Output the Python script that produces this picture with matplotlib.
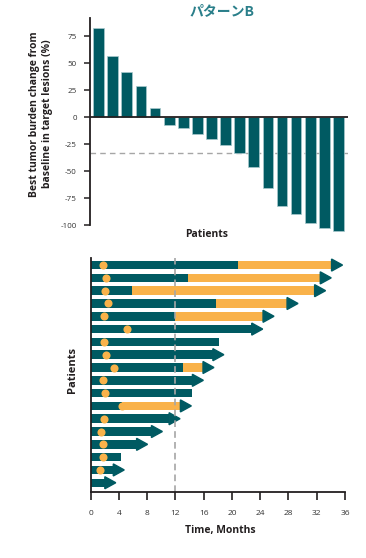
import matplotlib
matplotlib.use('Agg')
import matplotlib.pyplot as plt
from matplotlib.patches import Polygon
import numpy as np

plt.rcParams['font.family'] = ['Open Sans', 'Noto Sans CJK JP', 'DejaVu Sans']

# ---------------- data ----------------
title = 'パターンB'
best_change = [83, 57, 41.5, 28.5, 8.5, -7, -10, -15, -20, -26, -33, -46, -65,
               -82, -89, -98, -102, -105]
threshold = -33
wf_ticks = [75, 50, 25, 0, -25, -50, -75, -100]

# swimmer rows, listed top to bottom
teal_end = [20.8, 13.8, 5.9, 17.8, 12.0, 22.8, 18.2, 17.3, 13.0, 14.4, 14.4,
            4.4, 11.1, 8.6, 6.5, 4.3, 3.2, 2.0]
total_end = [34.1, 32.5, 31.7, 27.8, 24.4, 22.8, 18.2, 17.3, 15.9, 14.4, 14.4,
             12.7, 11.1, 8.6, 6.5, 4.3, 3.2, 2.0]
dot_time = [1.7, 2.2, 2.0, 2.5, 1.9, 5.1, 1.9, 2.1, 3.3, 1.7, 2.0, 4.5, 1.9,
            1.5, 1.7, 1.7, 1.3, np.nan]
ongoing = [True, True, True, True, True, True, False, True, True, True, False,
           True, True, True, True, False, True, True]
landmark = 12
time_ticks = [0, 4, 8, 12, 16, 20, 24, 28, 32, 36]

# ---------------- style ----------------
TEAL = '#005A62'
ORANGE = '#F9B24A'
DARK = '#231F20'
GRAY = '#A6A6A6'

fig = plt.figure(figsize=(3.66, 5.58), dpi=100)

# ---------------- waterfall ----------------
ax1 = fig.add_axes([0.2459, 0.5824, 0.705, 0.3857])
n = len(best_change)
ax1.bar(np.arange(n), best_change, width=0.76, color=TEAL,
        edgecolor='#A9C9CD', linewidth=0.5, zorder=2)
ax1.set_xlim(-0.61, n - 1 + 0.68)
ax1.set_ylim(-107, 92)
ax1.axhline(0, color=DARK, lw=1.3, zorder=3)
ax1.axhline(threshold, color=GRAY, lw=1.0, ls=(0, (4, 3)), zorder=1)
for s in ['top', 'right', 'bottom']:
    ax1.spines[s].set_visible(False)
ax1.spines['left'].set_bounds(-100, 92)
ax1.spines['left'].set_color(DARK)
ax1.spines['left'].set_linewidth(1.3)
ax1.set_xticks([])
ax1.set_yticks(wf_ticks)
ax1.set_yticklabels([str(v) for v in wf_ticks])
ax1.tick_params(axis='y', length=4.5, width=1.1, color=DARK, labelsize=5.8,
                labelcolor='#333333', pad=5)

fig.text(207 / 366, 1 - 234 / 558, 'Patients', fontsize=7.5, fontweight='bold',
         ha='center', va='center', color=DARK)
fig.text(41 / 366, 1 - 114 / 558,
         'Best tumor burden change from\nbaseline in target lesions (%)',
         fontsize=7.5, fontweight='bold', rotation=90, ha='center', va='center',
         multialignment='center', linespacing=1.15, color=DARK)
fig.text(222 / 366, 1 - 11 / 558, title, fontsize=10, fontweight='bold',
         color='#2A7F8A', ha='center', va='center',
         family=['Noto Sans CJK JP', 'DejaVu Sans'])

# ---------------- swimmer ----------------
ax2 = fig.add_axes([0.2478, 0.1188, 0.6948, 0.4188])
m = len(teal_end)
ys = np.arange(m)[::-1]
h = 0.66
teal_end_a = np.array(teal_end)
total_end_a = np.array(total_end)
ax2.barh(ys, teal_end_a, left=0, height=h, color=TEAL, zorder=2)
orange_len = total_end_a - teal_end_a
mask = orange_len > 0
ax2.barh(ys[mask], orange_len[mask], left=teal_end_a[mask], height=h,
         color=ORANGE, zorder=2)
for y, e, on in zip(ys, total_end_a, ongoing):
    if on:
        ax2.add_patch(Polygon([(e, y - 0.47), (e, y + 0.47), (e + 1.55, y)],
                              closed=True, color=TEAL, zorder=2))
ax2.axvline(landmark, color=GRAY, lw=1.2, ls=(0, (4, 2.5)), zorder=2.5)
ax2.scatter(dot_time, ys, s=34, color=ORANGE, zorder=4, linewidths=0)

ax2.set_xlim(0, 36)
ax2.set_ylim(-0.70, m - 1 + 0.55)
for s in ['top', 'right']:
    ax2.spines[s].set_visible(False)
for s in ['left', 'bottom']:
    ax2.spines[s].set_color(DARK)
    ax2.spines[s].set_linewidth(1.3)
ax2.set_yticks([])
ax2.set_xticks(time_ticks)
ax2.set_xticklabels([str(t) for t in time_ticks])
ax2.tick_params(axis='x', length=6, width=1.2, color=DARK, labelsize=6,
                labelcolor='#333333', pad=7)
fig.text(220 / 366, 1 - 530 / 558, 'Time, Months', fontsize=7.5,
         fontweight='bold', ha='center', va='center', color=DARK)
fig.text(72 / 366, 1 - 370 / 558, 'Patients', fontsize=8, fontweight='bold',
         rotation=90, ha='center', va='center', color=DARK)

fig.savefig('out.png', dpi=100)
